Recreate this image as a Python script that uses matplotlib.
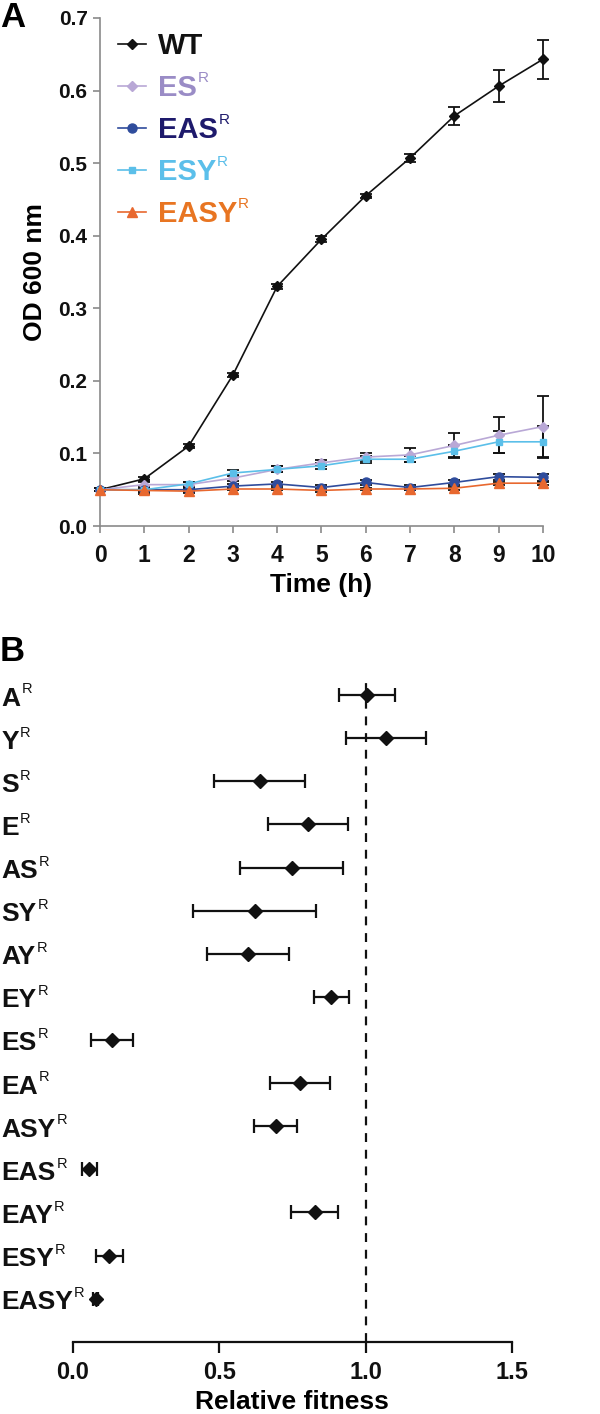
import numpy as np
import matplotlib
matplotlib.use("Agg")
import matplotlib.pyplot as plt
from matplotlib.transforms import blended_transform_factory

plt.rcParams['font.family'] = ['Liberation Sans', 'DejaVu Sans']
plt.rcParams['font.weight'] = 'bold'
plt.rcParams['axes.labelweight'] = 'bold'

# ---- panel A: growth curves ----
hours = [0, 1, 2, 3, 4, 5, 6, 7, 8, 9, 10]

wt = [0.050, 0.065, 0.110, 0.208, 0.330, 0.395, 0.455, 0.507, 0.565, 0.606, 0.643]
wt_err = [0.002, 0.003, 0.003, 0.003, 0.003, 0.004, 0.003, 0.005, 0.013, 0.022, 0.027]
es = [0.050, 0.057, 0.057, 0.066, 0.078, 0.087, 0.095, 0.098, 0.111, 0.125, 0.137]
es_err = [0.002, 0.004, 0.003, 0.004, 0.004, 0.004, 0.006, 0.010, 0.017, 0.025, 0.042]
eas = [0.050, 0.050, 0.050, 0.055, 0.058, 0.053, 0.060, 0.053, 0.060, 0.068, 0.067]
eas_err = [0.002, 0.003, 0.003, 0.003, 0.003, 0.003, 0.003, 0.003, 0.003, 0.004, 0.005]
esy = [0.050, 0.050, 0.058, 0.073, 0.078, 0.083, 0.092, 0.092, 0.103, 0.116, 0.116]
esy_err = [0.002, 0.003, 0.003, 0.004, 0.004, 0.004, 0.005, 0.004, 0.008, 0.015, 0.022]
easy = [0.050, 0.049, 0.048, 0.051, 0.051, 0.049, 0.051, 0.051, 0.052, 0.059, 0.059]
easy_err = [0.002, 0.005, 0.002, 0.002, 0.002, 0.002, 0.002, 0.002, 0.002, 0.002, 0.002]

series_names = ['WT', 'ES', 'EAS', 'ESY', 'EASY']
series_sup = [False, True, True, True, True]
series_vals = [wt, es, eas, esy, easy]
series_errs = [wt_err, es_err, eas_err, esy_err, easy_err]
line_colors = ['#111111', '#b9a8d6', '#2f4c9c', '#5bbfe9', '#e8682f']
text_colors = ['#111111', '#9a8cc6', '#1e1a6c', '#5bbfea', '#e87522']
markers = ['D', 'D', 'o', 's', '^']
msizes = [5, 5, 6.5, 4.5, 7]

# ---- panel B: relative fitness ----
strains = ['A', 'Y', 'S', 'E', 'AS', 'SY', 'AY', 'EY', 'ES', 'EA', 'ASY',
           'EAS', 'EAY', 'ESY', 'EASY']
fitness = [1.005, 1.070, 0.639, 0.803, 0.747, 0.622, 0.598, 0.883, 0.134,
           0.775, 0.693, 0.057, 0.826, 0.125, 0.078]
fitness_err = [0.095, 0.136, 0.155, 0.137, 0.176, 0.210, 0.140, 0.060, 0.071,
               0.102, 0.074, 0.025, 0.080, 0.047, 0.010]


def add_sup(ax, txt, size, color, drop=0.5):
    # small thin "R" hung on the top-right corner of a text artist
    ax.annotate('R', xy=(1, 1), xycoords=txt, xytext=(0.8, drop),
                textcoords='offset points', fontsize=size, fontweight='normal',
                color=color, ha='left', va='top', zorder=10)


fig = plt.figure(figsize=(6, 14.14), dpi=100)

# panel A
axA = fig.add_axes([0.1667, 0.628, 0.738, 0.3593])
for name, v, e, lc, m, ms in zip(series_names, series_vals, series_errs,
                                 line_colors, markers, msizes):
    axA.errorbar(hours, v, yerr=e, color=lc, ecolor='#111111', elinewidth=1.3,
                 capsize=4, capthick=1.3, marker=m, ms=ms, lw=1.2,
                 label=name, clip_on=False, zorder=3)

axA.set_xlim(0, 10)
axA.set_ylim(0, 0.7)
axA.set_xticks(hours)
axA.set_yticks(np.arange(0, 0.71, 0.1))
axA.set_yticklabels(['%.1f' % t for t in np.arange(0, 0.71, 0.1)])
for s in ['top', 'right']:
    axA.spines[s].set_visible(False)
for s in ['left', 'bottom']:
    axA.spines[s].set_color('#8a8a8a')
    axA.spines[s].set_linewidth(1.2)
axA.tick_params(axis='y', colors='#8a8a8a', labelcolor='#111111', labelsize=15,
                length=5, width=1.2, pad=4)
axA.tick_params(axis='x', colors='#8a8a8a', labelcolor='#111111', labelsize=16.5,
                length=5, width=1.2, pad=8)
axA.set_xlabel('Time (h)', fontsize=19, labelpad=4)
axA.set_ylabel('OD 600 nm', fontsize=19, labelpad=8)

handles, labels = axA.get_legend_handles_labels()
handles = [h[0] for h in handles]
leg = axA.legend(handles, labels, loc='upper left', bbox_to_anchor=(0.015, 0.995),
                 frameon=False, fontsize=21, handlelength=0.95, handletextpad=0.4,
                 labelspacing=0.48, borderaxespad=0)
for t, c, sup in zip(leg.get_texts(), text_colors, series_sup):
    t.set_color(c)
    if sup:
        add_sup(axA, t, 11, c, drop=2)

fig.text(0.0, 0.999, 'A', fontsize=25, va='top', ha='left')

# panel B
axB = fig.add_axes([0.1212, 0.0511, 0.7322, 0.4701])
rows = np.arange(len(strains))
axB.errorbar(fitness, rows, xerr=fitness_err, fmt='D', color='#111111', ms=7,
             elinewidth=1.6, capsize=5, capthick=1.6, zorder=3)
axB.axvline(1.0, color='#111111', lw=1.6, ls=(0, (4, 3.5)), zorder=1)
axB.set_xlim(0, 1.5)
axB.set_ylim(15.0, -0.42)
axB.set_xticks([0, 0.5, 1.0, 1.5])
axB.set_xticklabels(['0.0', '0.5', '1.0', '1.5'])
axB.set_yticks([])
for s in ['top', 'right', 'left']:
    axB.spines[s].set_visible(False)
axB.spines['bottom'].set_linewidth(1.6)
axB.spines['bottom'].set_color('#111111')
axB.tick_params(axis='x', labelsize=17, length=8, width=1.6, pad=6, colors='#111111')
axB.set_xlabel('Relative fitness', fontsize=19, labelpad=4)

tr = blended_transform_factory(fig.transFigure, axB.transData)
for r, name in zip(rows, strains):
    t = axB.text(0.002, r + 0.08, name, transform=tr, fontsize=19,
                 ha='left', va='center', color='#111111')
    add_sup(axB, t, 10.5, '#111111', drop=3)

fig.text(0.0, 0.551, 'B', fontsize=25, va='top', ha='left')

fig.savefig('out.png', dpi=100)
